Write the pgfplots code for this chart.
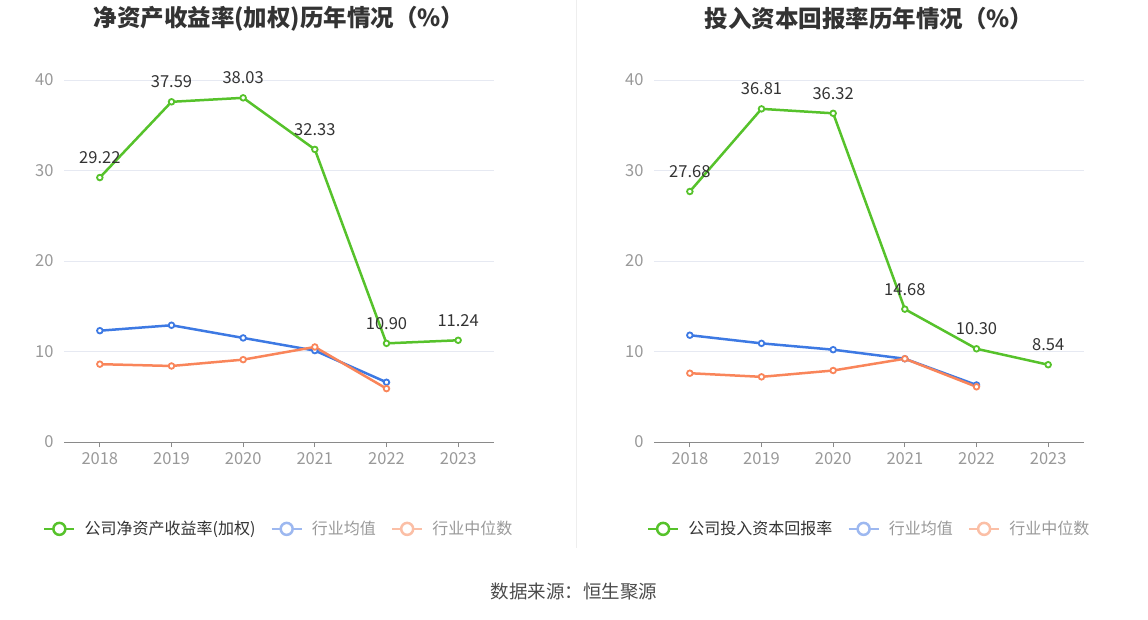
\documentclass[border=0pt]{standalone}
\usepackage{fontspec}
\setmainfont{Noto Sans CJK SC}
\usepackage{pgfplots}
\pgfplotsset{compat=1.18}
\definecolor{cgreen}{HTML}{56C22B}
\definecolor{cblue}{HTML}{3D79E3}
\definecolor{corange}{HTML}{F9855A}
\definecolor{lblue}{HTML}{9DB8F0}
\definecolor{lorange}{HTML}{FBBFA6}
\definecolor{gridc}{HTML}{E6E9F2}
\definecolor{tickc}{HTML}{999999}
\definecolor{axisc}{HTML}{8A8A8A}
\definecolor{txt}{HTML}{333333}
\definecolor{sepc}{HTML}{EEEEEE}

\pgfplotsset{
  mystyle/.style={
    scale only axis, width=430pt, height=362pt,
    xmin=2017.5, xmax=2023.5, ymin=0, ymax=40,
    xtick={2018,2019,2020,2021,2022,2023},
    ytick={0,10,20,30,40},
    /pgf/number format/assume math mode=true,
    x tick label style={/pgf/number format/1000 sep={}, yshift=-2pt},
    axis lines*=left,
    y axis line style={draw=none},
    x axis line style={axisc, line width=1pt},
    xtick style={axisc, line width=1pt},
    ytick style={draw=none},
    tick align=outside,
    major tick length=5pt,
    ymajorgrids,
    grid style={gridc, line width=0.8pt},
    tick label style={font=\fontsize{16.5}{19}\selectfont, text=tickc},
    yticklabel style={xshift=-2pt},
    clip=false,
    title style={at={(0.5,1)}, anchor=center, yshift=55pt,
      font=\bfseries\fontsize{23.5}{28}\selectfont, text=txt},
    every axis plot/.append style={line width=2.5pt, mark=*, mark size=2.8pt,
      mark options={fill=white, line width=1.8pt}},
    legend style={anchor=west, draw=none, fill=none, legend columns=-1,
      font=\fontsize{16}{19}\selectfont,
      /tikz/every odd column/.append style={column sep=7pt},
      /tikz/every even column/.append style={column sep=13pt}},
    legend cell align=left,
    legend image code/.code={
      \draw[#1, line width=2.5pt] (0pt,0pt) -- (30pt,0pt);
      \draw[#1, line width=2.5pt, fill=white] (15pt,0pt) circle (6pt);
    },
    lbl/.style={nodes near coords, point meta=explicit symbolic,
      every node near coord/.append style={anchor=center, yshift=20pt,
        font=\fontsize{16.5}{19}\selectfont, text=txt}},
  }
}

\begin{document}
\begin{tikzpicture}
\useasboundingbox (0pt,0pt) rectangle (1148pt,619pt);
\draw[sepc, line width=1pt] (576pt,619pt) -- (576pt,71pt);
\node[font=\fontsize{18.5}{22}\selectfont, text=black!70] at (574pt,27pt) {数据来源：恒生聚源};

\begin{axis}[mystyle, at={(64pt,177pt)}, anchor=south west,
  title={净资产收益率(加权)历年情况（\%）},
  legend style={at={(-0.056,-0.240)}}]
\addplot[cgreen, lbl, forget plot] coordinates {
 (2018,29.22) [29.22] (2019,37.59) [37.59] (2020,38.03) [38.03]
 (2021,32.33) [32.33] (2022,10.90) [10.90] (2023,11.24) [11.24]};
\addplot[cblue, forget plot] coordinates {
 (2018,12.3) (2019,12.9) (2020,11.5) (2021,10.1) (2022,6.6)};
\addplot[corange, forget plot] coordinates {
 (2018,8.6) (2019,8.4) (2020,9.1) (2021,10.5) (2022,5.9)};
\addlegendimage{cgreen}
\addlegendentry{\textcolor{txt}{公司净资产收益率(加权)}}
\addlegendimage{lblue}
\addlegendentry{\textcolor{tickc}{行业均值}}
\addlegendimage{lorange}
\addlegendentry{\textcolor{tickc}{行业中位数}}
\end{axis}

\begin{axis}[mystyle, at={(654pt,177pt)}, anchor=south west,
  title={投入资本回报率历年情况（\%）},
  legend style={at={(-0.024,-0.240)}}]
\addplot[cgreen, lbl, forget plot] coordinates {
 (2018,27.68) [27.68] (2019,36.81) [36.81] (2020,36.32) [36.32]
 (2021,14.68) [14.68] (2022,10.30) [10.30] (2023,8.54) [8.54]};
\addplot[cblue, forget plot] coordinates {
 (2018,11.8) (2019,10.9) (2020,10.2) (2021,9.2) (2022,6.3)};
\addplot[corange, forget plot] coordinates {
 (2018,7.6) (2019,7.2) (2020,7.9) (2021,9.2) (2022,6.1)};
\addlegendimage{cgreen}
\addlegendentry{\textcolor{txt}{公司投入资本回报率}}
\addlegendimage{lblue}
\addlegendentry{\textcolor{tickc}{行业均值}}
\addlegendimage{lorange}
\addlegendentry{\textcolor{tickc}{行业中位数}}
\end{axis}
\end{tikzpicture}
\end{document}
